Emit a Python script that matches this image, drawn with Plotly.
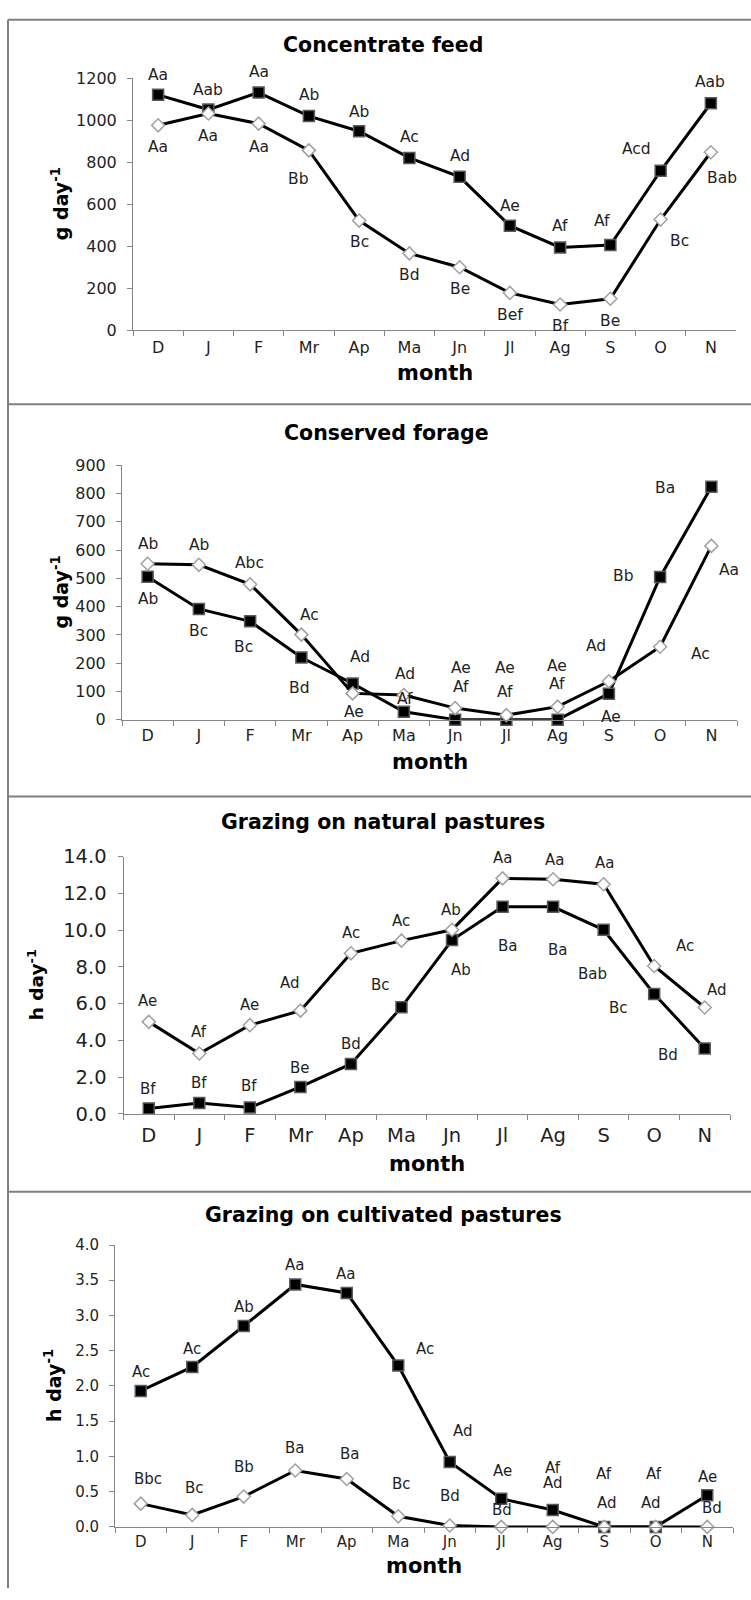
import plotly.graph_objects as go

# Month categories (December to November)
months = ["D", "J", "F", "Mr", "Ap", "Ma", "Jn", "Jl", "Ag", "S", "O", "N"]

# Concentrate feed, g day-1
conc_sq = [1120, 1050, 1131, 1019, 947, 820, 730, 498, 394, 406, 759, 1080]
conc_dm = [975, 1031, 983, 856, 522, 366, 300, 178, 123, 150, 527, 847]
conc_sq_lbl = ["Aa", "Aab", "Aa", "Ab", "Ab", "Ac", "Ad", "Ae", "Af", "Af", "Acd", "Aab"]
conc_dm_lbl = ["Aa", "Aa", "Aa", "Bb", "Bc", "Bd", "Be", "Bef", "Bf", "Be", "Bc", "Bab"]

# Conserved forage, g day-1
forage_sq = [506, 392, 348, 220, 128, 28, 0, 0, 0, 92, 505, 824]
forage_dm = [552, 548, 479, 301, 93, 87, 41, 16, 46, 136, 258, 615]
forage_sq_lbl = ["Ab", "Bc", "Bc", "Bd", "Ad", "Af", "Af", "Af", "Af", "Ae", "Bb", "Ba"]
forage_dm_lbl = ["Ab", "Ab", "Abc", "Ac", "Ae", "Ad", "Ae", "Ae", "Ae", "Ad", "Ac", "Aa"]

# Grazing on natural pastures, h day-1
natural_sq = [0.3, 0.6, 0.35, 1.47, 2.72, 5.81, 9.46, 11.27, 11.27, 10.02, 6.53, 3.56]
natural_dm = [5.01, 3.29, 4.83, 5.62, 8.74, 9.43, 10.02, 12.82, 12.77, 12.5, 8.05, 5.79]
natural_sq_lbl = ["Bf", "Bf", "Bf", "Be", "Bd", "Bc", "Ab", "Ba", "Ba", "Bab", "Bc", "Bd"]
natural_dm_lbl = ["Ae", "Af", "Ae", "Ad", "Ac", "Ac", "Ab", "Aa", "Aa", "Aa", "Ac", "Ad"]

# Grazing on cultivated pastures, h day-1
cult_sq = [1.93, 2.27, 2.85, 3.44, 3.32, 2.29, 0.92, 0.40, 0.24, 0, 0, 0.45]
cult_dm = [0.33, 0.17, 0.43, 0.80, 0.68, 0.15, 0.02, 0, 0, 0, 0, 0]
cult_sq_lbl = ["Ac", "Ac", "Ab", "Aa", "Aa", "Ac", "Ad", "Ae", "Af", "Af", "Af", "Ae"]
cult_dm_lbl = ["Bbc", "Bc", "Bb", "Ba", "Ba", "Bc", "Bd", "Bd", "Ad", "Ad", "Ad", "Bd"]

# Label offsets in pixels (dx, dy) relative to each marker
conc_sq_off = [(0, 20), (0, 20), (0, 21), (0, 21), (0, 19), (0, 21), (0, 21), (0, 20), (0, 21), (-8, 24), (-24, 22), (-1, 21)]
conc_dm_off = [(0, -22), (0, -22), (0, -23), (-11, -29), (0, -21), (0, -22), (0, -22), (0, -22), (0, -22), (0, -22), (19, -21), (11, -26)]
forage_sq_off = [(0, -22), (0, -22), (-7, -26), (-2, -30), (7, 27), (1, 13), (6, 33), (-1, 28), (-1, 36), (2, -23), (-37, 1), (-46, -1)]
forage_dm_off = [(0, 20), (0, 20), (-1, 21), (8, 20), (1, -19), (1, 21), (6, 40), (-1, 47), (-1, 41), (-13, 35), (40, -7), (18, -24)]
natural_sq_off = [(-1, 19), (0, 20), (-1, 21), (0, 19), (0, 20), (-21, 22), (9, -30), (5, -39), (4, -43), (-11, -44), (-36, -14), (-37, -7)]
natural_dm_off = [(-1, 21), (0, 21), (0, 20), (-10, 28), (0, 20), (0, 20), (-1, 20), (0, 20), (1, 19), (1, 21), (31, 20), (12, 18)]
cult_sq_off = [(0, 19), (0, 18), (0, 19), (-1, 19), (-1, 19), (27, 17), (13, 31), (1, 28), (0, 42), (0, 53), (-2, 53), (0, 18)]
cult_dm_off = [(7, 25), (2, 27), (0, 30), (-1, 23), (3, 25), (3, 32), (0, 29), (1, 17), (0, 44), (3, 24), (-5, 24), (5, 19)]

W, H = 751, 1600
FONT = "DejaVu Sans"
TXT = "#1f1f1f"
AXIS = "#868686"

panels = [
    dict(title="Concentrate feed", unit="g", sq=conc_sq, dm=conc_dm,
         sq_lbl=conc_sq_lbl, dm_lbl=conc_dm_lbl, sq_off=conc_sq_off, dm_off=conc_dm_off,
         yr=[0, 1200], dt=200, fmt="d", xpx=(133, 736), ypx=(68, 324),
         tick=16, lbl=15.5, xstand=2, ylab_x=60, title_y=35, month_y=367, title_x=383, yl=19),
    dict(title="Conserved forage", unit="g", sq=forage_sq, dm=forage_dm,
         sq_lbl=forage_sq_lbl, dm_lbl=forage_dm_lbl, sq_off=forage_sq_off, dm_off=forage_dm_off,
         yr=[0, 900], dt=100, fmt="d", xpx=(122, 737), ypx=(461, 719),
         tick=16, lbl=15.5, xstand=1, ylab_x=60, title_y=428, month_y=762, title_x=386, yl=19),
    dict(title="Grazing on natural pastures", unit="h", sq=natural_sq, dm=natural_dm,
         sq_lbl=natural_sq_lbl, dm_lbl=natural_dm_lbl, sq_off=natural_sq_off, dm_off=natural_dm_off,
         yr=[0, 14], dt=2, fmt=".1f", xpx=(123.5, 730), ypx=(858, 1119),
         tick=19.5, lbl=15, xstand=4, ylab_x=36, title_y=823, month_y=1170, title_x=383, yl=18.5),
    dict(title="Grazing on cultivated pastures", unit="h", sq=cult_sq, dm=cult_dm,
         sq_lbl=cult_sq_lbl, dm_lbl=cult_dm_lbl, sq_off=cult_sq_off, dm_off=cult_dm_off,
         yr=[0, 4], dt=0.5, fmt=".1f", xpx=(115, 733), ypx=(1252, 1538),
         tick=15, lbl=15, xstand=1, ylab_x=53, title_y=1222, month_y=1578, title_x=383, yl=19),
]

fig = go.Figure()
annotations = []
layout = {}

for i, p in enumerate(panels):
    n = "" if i == 0 else str(i + 1)
    xa, ya = "x" + n, "y" + n
    x0, x1 = p["xpx"]
    yt, yb = p["ypx"]

    fig.add_trace(go.Scatter(
        x=months, y=p["sq"], xaxis=xa, yaxis=ya, mode="lines+markers",
        line=dict(color="black", width=3),
        marker=dict(symbol="square", size=11, color="black", line=dict(color="#5a5a5a", width=1.5)),
        cliponaxis=False, showlegend=False, hoverinfo="skip"))
    fig.add_trace(go.Scatter(
        x=months, y=p["dm"], xaxis=xa, yaxis=ya, mode="lines+markers",
        line=dict(color="black", width=3),
        marker=dict(symbol="diamond", size=10, color="white", line=dict(color="#a0a0a0", width=1.5)),
        cliponaxis=False, showlegend=False, hoverinfo="skip"))

    nt = int(round((p["yr"][1] - p["yr"][0]) / p["dt"]))
    tv = [p["yr"][0] + k * p["dt"] for k in range(nt + 1)]
    tt = [format(v, p["fmt"]) if p["fmt"] == ".1f" else str(int(v)) for v in tv]

    layout["xaxis" + n] = dict(
        domain=[x0 / W, x1 / W], anchor=ya, type="category", range=[-0.5, 11.5],
        tickson="boundaries", ticks="outside", ticklen=5, tickcolor=AXIS, tickwidth=1,
        showline=True, linecolor=AXIS, linewidth=1, showgrid=False, zeroline=False,
        ticklabelstandoff=p["xstand"],
        tickfont=dict(family=FONT, size=p["tick"], color=TXT), fixedrange=True)
    layout["yaxis" + n] = dict(
        domain=[1 - yb / H, 1 - yt / H], anchor=xa, range=p["yr"],
        tickvals=tv, ticktext=tt, ticks="outside", ticklen=5, tickcolor=AXIS, tickwidth=1,
        showline=True, linecolor=AXIS, linewidth=1, showgrid=False, zeroline=False,
        ticklabelstandoff=7,
        tickfont=dict(family=FONT, size=p["tick"], color=TXT), fixedrange=True)

    # significance letters
    for vals, lbls, offs in ((p["sq"], p["sq_lbl"], p["sq_off"]), (p["dm"], p["dm_lbl"], p["dm_off"])):
        for m, v, t, (dx, dy) in zip(months, vals, lbls, offs):
            annotations.append(dict(
                x=m, y=v, xref=xa, yref=ya, text=t, showarrow=False,
                xshift=dx, yshift=dy, xanchor="center", yanchor="middle",
                font=dict(family=FONT, size=p["lbl"], color=TXT)))

    # panel title, axis titles
    annotations.append(dict(
        x=p["title_x"] / W, y=1 - p["title_y"] / H, xref="paper", yref="paper",
        text="<b>" + p["title"] + "</b>", showarrow=False, xanchor="center", yanchor="middle",
        font=dict(family=FONT, size=20.5, color="black")))
    annotations.append(dict(
        x=(x0 + x1) / 2 / W, y=1 - p["month_y"] / H, xref="paper", yref="paper",
        text="<b>month</b>", showarrow=False, xanchor="center", yanchor="middle",
        font=dict(family=FONT, size=21, color="black")))
    annotations.append(dict(
        x=p["ylab_x"] / W, y=1 - (yt + yb) / 2 / H, xref="paper", yref="paper",
        text="<b>" + p["unit"] + " day<sup>-1</sup></b>", showarrow=False, textangle=-90,
        xanchor="center", yanchor="middle",
        font=dict(family=FONT, size=p["yl"], color="black")))

# panel frames
BORDER = "#7f7f7f"
shapes = [dict(type="line", xref="paper", yref="paper", x0=8 / W, x1=1, y0=1 - yy / H, y1=1 - yy / H,
               line=dict(color=BORDER, width=2)) for yy in (9, 399, 797, 1198)]
shapes.append(dict(type="line", xref="paper", yref="paper", x0=8 / W, x1=8 / W, y0=0, y1=1 - 9 / H,
                   line=dict(color=BORDER, width=2)))

fig.update_layout(
    width=W, height=H, margin=dict(l=0, r=0, t=0, b=0),
    paper_bgcolor="white", plot_bgcolor="white",
    annotations=annotations, shapes=shapes, showlegend=False, **layout)

fig.write_html("out.html")
